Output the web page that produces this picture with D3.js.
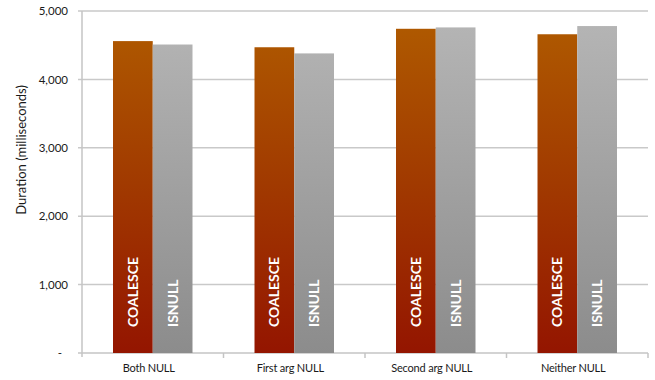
<!DOCTYPE html>
<html><head><meta charset="utf-8">
<script src="https://cdn.jsdelivr.net/npm/d3@7"></script>
<style>body{margin:0;background:#fff}svg{display:block}</style>
</head><body>
<svg id="c" width="655" height="380"></svg>
<script>
const categories = ["Both NULL", "First arg NULL", "Second arg NULL", "Neither NULL"];
const seriesNames = ["COALESCE", "ISNULL"];
const coalesceValues = [4560, 4470, 4740, 4660];
const isnullValues = [4510, 4380, 4760, 4780];
const yTicks = [0, 1000, 2000, 3000, 4000, 5000];
const yLabel = "Duration (milliseconds)";

const svg = d3.select("#c");
const mLeft = 82, mRight = 648, mTop = 11, mBottom = 353;
const font = "Lato, 'Open Sans', sans-serif";

const x = d3.scaleBand().domain(categories).range([mLeft, mRight]).paddingInner(0).paddingOuter(0);
const xs = d3.scaleBand().domain(seriesNames).range([0, x.bandwidth()]).paddingInner(0).paddingOuter(0.78);
const y = d3.scaleLinear().domain([0, 5000]).range([mBottom, mTop]);

const defs = svg.append("defs");
const g1 = defs.append("linearGradient").attr("id", "gC").attr("x1", 0).attr("x2", 0)
  .attr("gradientUnits", "userSpaceOnUse").attr("y1", mTop).attr("y2", mBottom);
g1.append("stop").attr("offset", "0%").attr("stop-color", "#b05c00");
g1.append("stop").attr("offset", "50%").attr("stop-color", "#a13a00");
g1.append("stop").attr("offset", "100%").attr("stop-color", "#941500");
const g2 = defs.append("linearGradient").attr("id", "gI").attr("x1", 0).attr("x2", 0)
  .attr("gradientUnits", "userSpaceOnUse").attr("y1", mTop).attr("y2", mBottom);
g2.append("stop").attr("offset", "0%").attr("stop-color", "#b6b6b6");
g2.append("stop").attr("offset", "100%").attr("stop-color", "#8c8c8c");

// gridlines
svg.append("g").selectAll("line").data(yTicks.filter(d => d > 0)).join("line")
  .attr("x1", mLeft - 4).attr("x2", mRight)
  .attr("y1", d => y(d)).attr("y2", d => y(d))
  .attr("stroke", "#c9c9c9").attr("stroke-width", 1.5);

// y axis
const yAxis = d3.axisLeft(y).tickValues(yTicks).tickSize(0).tickPadding(14)
  .tickFormat(d => d === 0 ? "-" : d3.format(",")(d));
const ya = svg.append("g").attr("transform", `translate(${mLeft},0)`).call(yAxis);
ya.select(".domain").attr("stroke", "#c4c4c4").attr("stroke-width", 1.5).attr("d", `M0,${mTop}V${mBottom + 4}`);
ya.selectAll("text").attr("font-family", font).attr("font-size", 11.5).attr("fill", "#1a1a1a");
ya.selectAll(".tick").filter(d => d === 0).select("text").attr("dx", -6);

// x axis
svg.append("line").attr("x1", mLeft - 4).attr("x2", mRight).attr("y1", mBottom).attr("y2", mBottom)
  .attr("stroke", "#c4c4c4").attr("stroke-width", 1.5);
const bounds = categories.map(c => x(c)).concat([mRight]);
svg.append("g").selectAll("line").data(bounds.slice(1)).join("line")
  .attr("x1", d => d).attr("x2", d => d).attr("y1", mBottom).attr("y2", mBottom + 5)
  .attr("stroke", "#c4c4c4").attr("stroke-width", 1.5);
svg.append("g").selectAll("text").data(categories).join("text")
  .attr("x", d => x(d) + x.bandwidth() / 2 - 4).attr("y", 372)
  .attr("text-anchor", "middle").attr("font-family", font).attr("font-size", 11).attr("fill", "#1a1a1a")
  .attr("letter-spacing", -0.2)
  .text(d => d);

// y label
svg.append("text").attr("transform", `translate(26,${(mTop + mBottom) / 2 - 32}) rotate(-90)`)
  .attr("text-anchor", "middle").attr("font-family", font).attr("font-size", 13).attr("fill", "#1a1a1a")
  .text(yLabel);

// bars
const rows = categories.map((c, i) => ({c, vals: [coalesceValues[i], isnullValues[i]]}));
const grp = svg.append("g").selectAll("g").data(rows).join("g").attr("transform", d => `translate(${x(d.c)},0)`);
grp.selectAll("rect").data(d => d.vals.map((v, j) => ({s: seriesNames[j], v}))).join("rect")
  .attr("x", d => xs(d.s)).attr("width", xs.bandwidth())
  .attr("y", d => y(d.v)).attr("height", d => y(0) - y(d.v))
  .attr("fill", d => d.s === "COALESCE" ? "url(#gC)" : "url(#gI)");
grp.selectAll("text").data(d => d.vals.map((v, j) => ({s: seriesNames[j], v}))).join("text")
  .attr("transform", d => `translate(${xs(d.s) + xs.bandwidth() / 2},${mBottom - 26}) rotate(-90)`)
  .attr("dy", "0.36em")
  .attr("font-family", font).attr("font-weight", "bold").attr("font-size", 14).attr("fill", "#fff")
  .text(d => d.s);
</script>
</body></html>
